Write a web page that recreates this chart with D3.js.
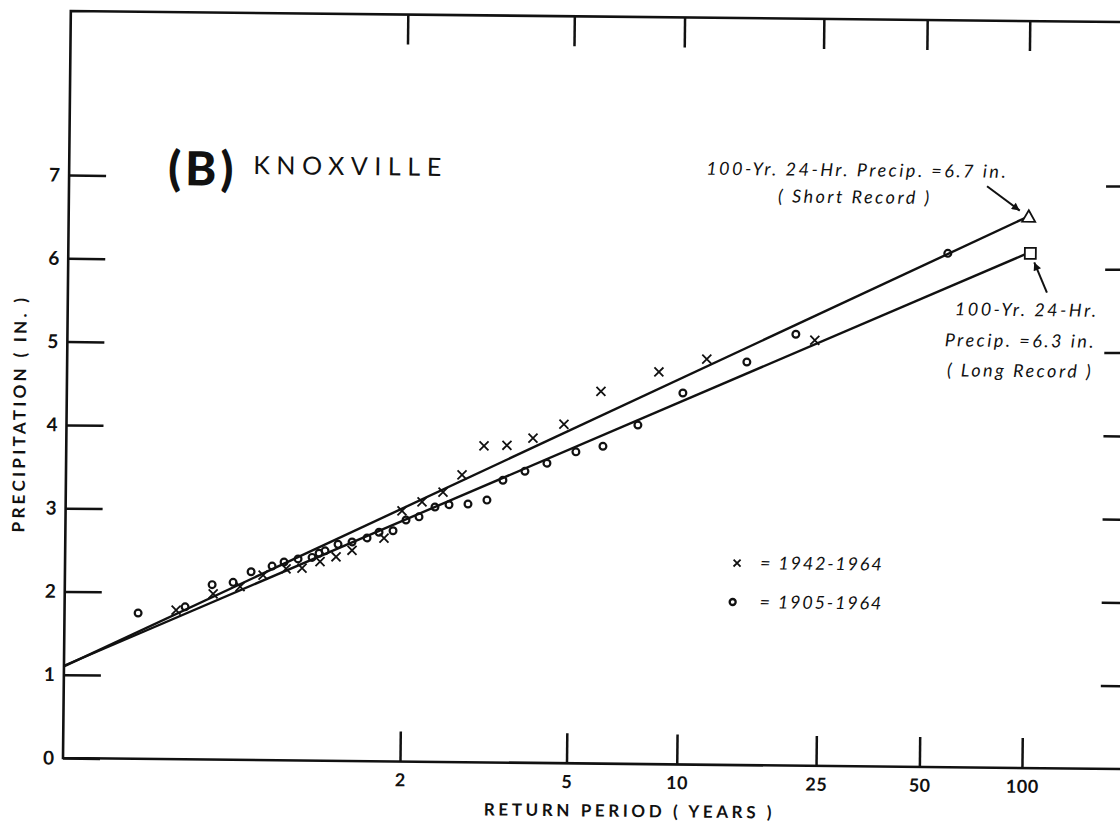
<!DOCTYPE html>
<html><head><meta charset="utf-8">
<script src="https://cdn.jsdelivr.net/npm/d3@7"></script>
<style>
html,body{margin:0;padding:0;background:#fff;}
svg{display:block;}
text{font-family:Lato,"DejaVu Sans",sans-serif;fill:#111;}
</style></head><body>
<svg id="chart" width="1120" height="825"></svg>
<script>
// ---------------- data ----------------
const returnPeriodTicks = [2, 5, 10, 25, 50, 100];
const precipTicks = [0, 1, 2, 3, 4, 5, 6, 7];

// x = 1942-1964 record (return period in years, precipitation in inches)
const shortRecordT = [1.0418, 1.0892, 1.1422, 1.2020, 1.2779, 1.3413, 1.4241, 1.5090, 1.6055, 1.8385, 1.9943,
  2.1959, 2.4406, 2.6946, 3.0321, 3.4498, 4.0095, 4.8181, 6.032, 8.684, 11.82, 24.07];
const shortRecordP = [1.79, 1.99, 2.08, 2.22, 2.30, 2.31, 2.39, 2.45, 2.53, 2.68, 3.01,
  3.12, 3.24, 3.45, 3.80, 3.81, 3.90, 4.07, 4.47, 4.71, 4.87, 5.11];

// o = 1905-1964 record
const longRecordT = [1.0158, 1.0510, 1.0874, 1.1266, 1.1687, 1.2295, 1.2703, 1.3242, 1.3854, 1.4187, 1.4490,
  1.5197, 1.6049, 1.7072, 1.7976, 1.9147, 2.0336, 2.1650, 2.3439, 2.5196, 2.7872, 3.0921, 3.3790, 3.8333,
  4.3619, 5.1908, 6.1301, 7.624, 10.147, 15.37, 21.21, 58.4];
const longRecordP = [1.75, 1.83, 2.10, 2.13, 2.26, 2.33, 2.38, 2.42, 2.44, 2.49, 2.52,
  2.60, 2.63, 2.68, 2.75, 2.77, 2.90, 2.94, 3.06, 3.09, 3.10, 3.15, 3.39, 3.50,
  3.60, 3.74, 3.81, 4.07, 4.46, 4.84, 5.18, 6.17];

// fitted lines (value at T = 2 and T = 100 years)
const fitT = [2, 100];
const shortFitP = [3.04, 6.62];
const longFitP = [2.89, 6.18];

const legendLabels = ["= 1942-1964", "= 1905-1964"];
const shortNote = ["100-Yr. 24-Hr. Precip. =6.7 in.", "( Short Record )"];
const longNote = ["100-Yr. 24-Hr.", "Precip. =6.3 in.", "( Long Record )"];

// ---------------- layout ----------------
const L = 63, B = 758, T0 = 11, R = 1137;
const gumbel = t => -Math.log(-Math.log(1 - 1 / t));

const svg = d3.select("#chart");
const g = svg.append("g").attr("transform", `rotate(0.6, ${L}, ${B})`);

const x = d3.scaleLinear().domain([gumbel(2), gumbel(100)]).range([400, 1022]);
const y = d3.scaleLinear().domain([0, 7]).range([B, 175]);
const uLeft = x.invert(L);

// frame
g.append("path")
  .attr("d", `M${R},${T0}H${L}V${B}H${R}`)
  .attr("fill", "none").attr("stroke", "#111").attr("stroke-width", 2.6);

const tickStyle = sel => {
  sel.select(".domain").remove();
  sel.selectAll(".tick line").attr("stroke", "#111").attr("stroke-width", 2.5);
};

// bottom axis
const xb = g.append("g").attr("transform", `translate(0,${B})`)
  .call(d3.axisBottom(x).tickValues(returnPeriodTicks.map(gumbel))
    .tickFormat((d, i) => returnPeriodTicks[i]).tickSize(-30).tickPadding(12));
tickStyle(xb);
xb.selectAll("text").attr("font-size", 18).attr("font-weight", 700).attr("fill", "#111")
  .attr("letter-spacing", 0.5).style("font-family", "Lato, sans-serif");

// top axis
const xt = g.append("g").attr("transform", `translate(0,${T0})`)
  .call(d3.axisTop(x).tickValues(returnPeriodTicks.map(gumbel)).tickFormat("").tickSize(-30));
tickStyle(xt);

// left axis
const yl = g.append("g").attr("transform", `translate(${L},0)`)
  .call(d3.axisLeft(y).tickValues(precipTicks).tickFormat(d3.format("d")).tickSize(-37).tickPadding(9));
tickStyle(yl);
yl.selectAll("text").attr("font-size", 19).attr("font-weight", 700).attr("fill", "#111")
  .style("font-family", "Lato, sans-serif");

// right axis
const yr = g.append("g").attr("transform", `translate(${R},0)`)
  .call(d3.axisRight(y).tickValues(precipTicks.slice(1)).tickFormat("").tickSize(-37));
tickStyle(yr);

// axis titles
g.append("text").attr("x", 630).attr("y", 811).attr("text-anchor", "middle")
  .attr("font-size", 17).attr("font-weight", 700).attr("letter-spacing", 3.6)
  .text("RETURN PERIOD ( YEARS )");
g.append("text").attr("transform", "translate(22,414) rotate(-90)").attr("text-anchor", "middle")
  .attr("font-size", 17).attr("font-weight", 700).attr("letter-spacing", 3.3)
  .text("PRECIPITATION ( IN. )");

// title
g.append("text").attr("x", 162).attr("y", 184)
  .attr("font-size", 47).attr("font-weight", 900).attr("letter-spacing", 4).text("(B)");
g.append("text").attr("x", 247).attr("y", 172)
  .attr("font-size", 25).attr("font-weight", 400).attr("letter-spacing", 6.6).text("KNOXVILLE");

// fitted lines
const lineGen = d3.line().x(d => x(d[0])).y(d => y(d[1]));
function fitLine(ps) {
  const u1 = gumbel(fitT[0]), u2 = gumbel(fitT[1]);
  const slope = (ps[1] - ps[0]) / (u2 - u1);
  return [[uLeft, ps[0] + slope * (uLeft - u1)], [u2, ps[1]]];
}
[shortFitP, longFitP].forEach(ps => {
  g.append("path").attr("d", lineGen(fitLine(ps)))
    .attr("fill", "none").attr("stroke", "#111").attr("stroke-width", 2.4);
});

// points
const longData = longRecordT.map((t, i) => [gumbel(t), longRecordP[i]]);
const shortData = shortRecordT.map((t, i) => [gumbel(t), shortRecordP[i]]);
g.append("g").selectAll("circle").data(longData).join("circle")
  .attr("cx", d => x(d[0])).attr("cy", d => y(d[1])).attr("r", 3.4)
  .attr("fill", "none").attr("stroke", "#111").attr("stroke-width", 2.2);
const cross = "M-4.5,-4.5L4.5,4.5M-4.5,4.5L4.5,-4.5";
g.append("g").selectAll("path").data(shortData).join("path")
  .attr("transform", d => `translate(${x(d[0])},${y(d[1])})`).attr("d", cross)
  .attr("fill", "none").attr("stroke", "#111").attr("stroke-width", 1.8);

// 100-yr estimate markers
const triX = x(gumbel(100)), triY = y(shortFitP[1]);
const sqX = x(gumbel(100)) + 3, sqY = y(longFitP[1]);
g.append("path").attr("d", "M0,-6.5L6.5,5L-6.5,5Z").attr("transform", `translate(${triX + 1},${triY})`)
  .attr("fill", "#fff").attr("stroke", "#111").attr("stroke-width", 1.8);
g.append("rect").attr("x", sqX - 5.5).attr("y", sqY - 5.5).attr("width", 11).attr("height", 11)
  .attr("fill", "#fff").attr("stroke", "#111").attr("stroke-width", 1.8);

// arrows
svg.append("defs").append("marker").attr("id", "ah").attr("viewBox", "0 0 10 10")
  .attr("refX", 10).attr("refY", 5).attr("markerWidth", 11).attr("markerHeight", 8)
  .attr("markerUnits", "userSpaceOnUse").attr("orient", "auto")
  .append("path").attr("d", "M0,0L10,5L0,10Z").attr("fill", "#111");
g.append("line").attr("x1", triX - 41).attr("y1", triY - 30).attr("x2", triX - 8).attr("y2", triY - 6)
  .attr("stroke", "#111").attr("stroke-width", 2).attr("marker-end", "url(#ah)");
g.append("line").attr("x1", sqX + 17).attr("y1", sqY + 39).attr("x2", sqX + 4).attr("y2", sqY + 9)
  .attr("stroke", "#111").attr("stroke-width", 2).attr("marker-end", "url(#ah)");

// annotations
const note = (txt, xx, yy) => g.append("text").attr("x", xx).attr("y", yy).attr("text-anchor", "middle")
  .attr("font-size", 18).attr("font-style", "italic").attr("letter-spacing", 2.5).text(txt);
note(shortNote[0], 851, 168);
note(shortNote[1], 849, 195);
note(longNote[0], 1022, 306);
note(longNote[1], 1016, 337);
note(longNote[2], 1016, 367);

// legend
const lg = g.append("g");
lg.append("path").attr("d", "M-3.5,-3.5L3.5,3.5M-3.5,3.5L3.5,-3.5").attr("transform", "translate(735,556)")
  .attr("stroke", "#111").attr("stroke-width", 1.8);
lg.append("circle").attr("cx", 731).attr("cy", 595).attr("r", 3).attr("fill", "none")
  .attr("stroke", "#111").attr("stroke-width", 2.3);
legendLabels.forEach((t, i) => lg.append("text").attr("x", 758).attr("y", 562 + i * 39)
  .attr("font-size", 18).attr("font-style", "italic").attr("letter-spacing", 1.8).text(t));
</script>
</body></html>
